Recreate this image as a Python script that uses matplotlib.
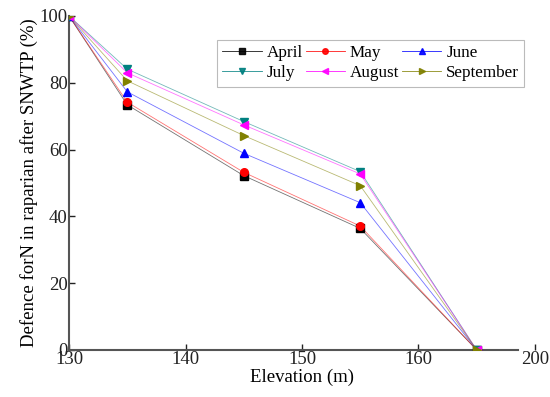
import matplotlib
matplotlib.use('Agg')
import matplotlib.pyplot as plt

# elevation (m) and share of N defence per month (%)
elevation = [130, 135, 145, 155, 165]
april     = [100, 73.4, 52.2, 36.4, 0.0]
may       = [100, 74.2, 53.2, 37.1, 0.0]
june      = [100, 77.3, 58.9, 44.1, 0.0]
july      = [100, 84.1, 68.4, 53.4, 0.0]
august    = [100, 83.0, 67.4, 52.7, 0.0]
september = [100, 80.6, 64.2, 49.2, 0.0]

xticks = [130, 140, 150, 160, 170]
xtick_labels = ['130', '140', '150', '160', '200']
yticks = [0, 20, 40, 60, 80, 100]

plt.rcParams['font.family'] = ['Liberation Serif', 'DejaVu Serif']

SERIES = [
    ('April', april, 'black', 's'),
    ('May', may, 'red', 'o'),
    ('June', june, 'blue', '^'),
    ('July', july, '#008080', 'v'),
    ('August', august, 'magenta', '<'),
    ('September', september, '#808000', '>'),
]

fig = plt.figure(figsize=(5.5, 3.97), dpi=100)
ax = fig.add_axes([0.1255, 0.1184, 0.8472, 0.8413])

handles = {}
for name, vals, col, mk in SERIES:
    ax.plot(elevation, vals, color=col, lw=0.6, alpha=0.55, zorder=2)
    ax.plot(elevation, vals, linestyle='none', marker=mk, color=col, ms=5.5, zorder=3)
    # legend proxy
    h, = ax.plot([], [], color=col, lw=0.6, alpha=0.9, marker=mk, ms=4, label=name)
    handles[name] = h

ax.set_xlim(130, 170)
ax.set_ylim(0, 100)
ax.set_xticks(xticks)
ax.set_xticklabels(xtick_labels)
ax.set_yticks(yticks)
ax.tick_params(direction='in', length=4, width=1, labelsize=13.5, colors='#222222', pad=1)

for s in ['top', 'right']:
    ax.spines[s].set_visible(False)
for s in ['left', 'bottom']:
    ax.spines[s].set_color('#555555')
    ax.spines[s].set_linewidth(1.5)
ax.spines['bottom'].set_bounds(130, 168.5)

ax.set_xlabel('Elevation (m)', fontsize=13.5, labelpad=0)
ax.set_ylabel('Defence forN in raparian after SNWTP (%)', fontsize=13.5, labelpad=1)

# row-wise order for a 3-column legend
order = ['April', 'July', 'May', 'August', 'June', 'September']
leg = ax.legend([handles[n] for n in order], order, ncol=3, loc='upper left',
                bbox_to_anchor=(0.318, 0.928), borderaxespad=0,
                fontsize=12.3, frameon=True, fancybox=False, handlelength=2.3,
                handletextpad=0.3, columnspacing=0.15, labelspacing=0.25, borderpad=0.3)
leg.get_frame().set_edgecolor('#aaaaaa')
leg.get_frame().set_linewidth(0.8)

fig.savefig('out.png', dpi=100)
